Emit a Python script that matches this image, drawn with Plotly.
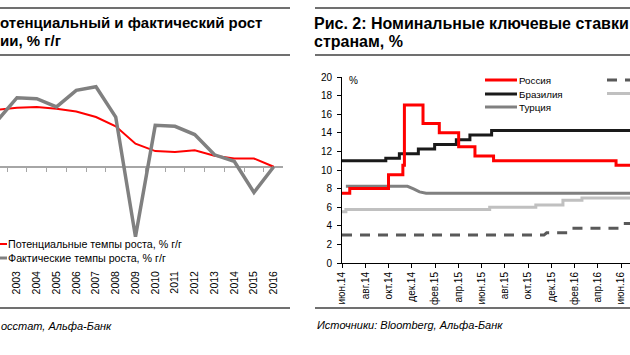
import plotly.graph_objects as go

W, H = 630, 355

# ---------------- Left chart data (Рис. 1) ----------------
years = list(range(2002, 2017))
year_labels = [str(y) for y in years]
potential = [6.2, 6.4, 6.5, 6.3, 6.0, 5.4, 4.4, 2.5, 1.7, 1.6, 1.8, 1.2, 0.9, 0.9, 0.0]
actual = [5.0, 7.5, 7.4, 6.5, 8.3, 8.7, 5.4, -7.6, 4.5, 4.4, 3.5, 1.3, 0.6, -2.8, 0.0]
boundary_ticks = [y + 0.5 for y in range(2001, 2017)]

# ---------------- Right chart data (Рис. 2) ----------------
russia_dates = ["2014-07-08", "2014-07-28", "2014-11-05", "2014-12-12", "2014-12-16",
                "2015-02-02", "2015-03-16", "2015-05-05", "2015-06-16", "2015-08-03",
                "2016-06-14", "2016-07-31"]
russia_rates = [7.5, 8.0, 9.5, 10.5, 17.0, 15.0, 14.0, 12.5, 11.5, 11.0, 10.5, 10.5]

brazil_dates = ["2014-07-08", "2014-10-29", "2014-12-03", "2015-01-21", "2015-03-04",
                "2015-04-29", "2015-06-03", "2015-07-29", "2016-07-31"]
brazil_rates = [11.0, 11.25, 11.75, 12.25, 12.75, 13.25, 13.75, 14.25, 14.25]

turkey_dates = ["2014-07-18", "2014-12-24", "2015-01-10", "2015-01-24", "2015-02-10", "2016-07-31"]
turkey_rates = [8.25, 8.25, 7.95, 7.65, 7.5, 7.5]

safrica_dates = ["2014-07-08", "2014-07-18", "2015-07-24", "2015-11-20", "2016-01-29",
                 "2016-03-18", "2016-07-31"]
safrica_rates = [5.5, 5.75, 6.0, 6.25, 6.75, 7.0, 7.0]

mexico_dates = ["2014-07-08", "2015-12-11", "2015-12-18", "2016-02-12", "2016-02-19",
                "2016-06-24", "2016-07-01", "2016-07-31"]
mexico_rates = [3.0, 3.0, 3.25, 3.25, 3.75, 3.75, 4.25, 4.25]

month_ticks = ["2014-07-08", "2014-09-06", "2014-11-05", "2015-01-04", "2015-03-05",
               "2015-05-04", "2015-07-03", "2015-09-01", "2015-10-31", "2015-12-30",
               "2016-02-28", "2016-04-28", "2016-06-27"]
month_labels = ["июн.14", "авг.14", "окт.14", "дек.14", "фев.15", "апр.15", "июн.15",
                "авг.15", "окт.15", "дек.15", "фев.16", "апр.16", "июн.16"]
rate_ticks = list(range(0, 21, 2))

FONT = "Liberation Sans, Arial, sans-serif"


def px(x):
    return x / W


def py(y):
    return 1 - y / H


fig = go.Figure()

# Left chart traces
fig.add_trace(go.Scatter(x=years, y=potential, mode="lines", name="Потенциальные темпы роста, % г/г",
                         line=dict(color="#ff0000", width=2), xaxis="x", yaxis="y", showlegend=False))
fig.add_trace(go.Scatter(x=years, y=actual, mode="lines", name="Фактические темпы роста, % г/г",
                         line=dict(color="#808080", width=3.5), xaxis="x3", yaxis="y", showlegend=False))

# Right chart traces
fig.add_trace(go.Scatter(x=safrica_dates, y=safrica_rates, mode="lines", name="ЮАР",
                         line=dict(color="#c0c0c0", width=3, shape="hv"), xaxis="x2", yaxis="y2", showlegend=False))
fig.add_trace(go.Scatter(x=mexico_dates, y=mexico_rates, mode="lines", name="Мексика",
                         line=dict(color="#595959", width=3, dash="10px,8px"), xaxis="x2", yaxis="y2", showlegend=False))
fig.add_trace(go.Scatter(x=turkey_dates, y=turkey_rates, mode="lines", name="Турция",
                         line=dict(color="#808080", width=3), xaxis="x2", yaxis="y2", showlegend=False))
fig.add_trace(go.Scatter(x=brazil_dates, y=brazil_rates, mode="lines", name="Бразилия",
                         line=dict(color="#1a1a1a", width=3, shape="hv"), xaxis="x2", yaxis="y2", showlegend=False))
fig.add_trace(go.Scatter(x=russia_dates, y=russia_rates, mode="lines", name="Россия",
                         line=dict(color="#ff0000", width=3, shape="hv"), xaxis="x2", yaxis="y2", showlegend=False))

left_range = [2002.14, 2016.47]

fig.update_layout(
    width=W, height=H,
    margin=dict(l=0, r=0, t=0, b=0, autoexpand=False),
    paper_bgcolor="white", plot_bgcolor="white",
    font=dict(family=FONT, color="#000000", size=10),
    hovermode=False,
    xaxis=dict(domain=[0, px(283)], range=left_range, anchor="y",
               tickvals=years, ticktext=year_labels, tickangle=-90,
               showline=False, ticks="", showgrid=False, zeroline=False,
               tickfont=dict(size=10.5, color="#000")),
    yaxis=dict(domain=[py(268), py(60)], range=[-11.0, 11.6], visible=False, anchor="x"),
    xaxis3=dict(overlaying="x", anchor="free", position=py(167), range=left_range,
                showline=True, linecolor="#a6a6a6", linewidth=1.5, layer="below traces",
                ticks="outside", ticklen=4, tickcolor="#a6a6a6", tickwidth=1,
                tickvals=boundary_ticks, showticklabels=False, showgrid=False, zeroline=False),
    xaxis2=dict(domain=[px(342), 1], range=["2014-07-08", "2016-07-20"], type="date", anchor="y2",
                tickvals=month_ticks, ticktext=month_labels, tickangle=-90,
                showline=True, linecolor="#000", linewidth=1,
                ticks="outside", ticklen=4, tickcolor="#000",
                showgrid=False, zeroline=False, tickfont=dict(size=10, color="#000")),
    yaxis2=dict(domain=[py(263), py(77)], range=[0, 20], anchor="x2",
                tickvals=rate_ticks, showline=True, linecolor="#000", linewidth=1,
                ticks="outside", ticklen=4, tickcolor="#000", ticklabelstandoff=3,
                showgrid=False, zeroline=False, tickfont=dict(size=10, color="#000")),
)

shapes = []
rule = dict(color="#404040", width=1.3)
for (x0, x1) in [(0, 290), (315, 640)]:
    for y in [8, 55, 308]:
        shapes.append(dict(type="line", xref="paper", yref="paper",
                           x0=px(x0), x1=px(x1), y0=py(y), y1=py(y), line=rule))

# legend samples (left chart, partially cropped)
shapes.append(dict(type="line", xref="paper", yref="paper", x0=px(-20), x1=px(7), y0=py(244), y1=py(244),
                   line=dict(color="#ff0000", width=2)))
shapes.append(dict(type="line", xref="paper", yref="paper", x0=px(-20), x1=px(7), y0=py(258), y1=py(258),
                   line=dict(color="#808080", width=3)))
# legend samples (right chart)
for y, c in [(80, "#ff0000"), (94, "#1a1a1a"), (107, "#808080")]:
    shapes.append(dict(type="line", xref="paper", yref="paper", x0=px(485), x1=px(517), y0=py(y), y1=py(y),
                       line=dict(color=c, width=3)))
shapes.append(dict(type="line", xref="paper", yref="paper", x0=px(607), x1=px(660), y0=py(80), y1=py(80),
                   line=dict(color="#595959", width=3, dash="10px,8px")))
shapes.append(dict(type="line", xref="paper", yref="paper", x0=px(607), x1=px(660), y0=py(93.5), y1=py(93.5),
                   line=dict(color="#c0c0c0", width=3)))
fig.update_layout(shapes=shapes)


def ann(text, x, y, size=10.5, bold=False, italic=False, anchor="left"):
    t = f"<b>{text}</b>" if bold else text
    if italic:
        t = f"<i>{t}</i>"
    return dict(text=t, x=px(x), y=py(y), xref="paper", yref="paper", xanchor=anchor, yanchor="middle",
                showarrow=False, font=dict(family=FONT, size=size, color="#000"), borderpad=0)


annotations = [
    ann("отенциальный и фактический рост", -1, 22, size=15, bold=True),
    ann("ии, % г/г", -1, 41, size=15, bold=True),
    ann("Рис. 2: Номинальные ключевые ставки", 313, 23, size=16, bold=True),
    ann("странам, %", 313, 42, size=16, bold=True),
    ann("осстат, Альфа-Банк", 0, 326, size=11, italic=True),
    ann("Источники: Bloomberg, Альфа-Банк", 316, 325, size=11, italic=True),
    ann("%", 348, 80, size=10),
    ann("Потенциальные темпы роста, % г/г", 7, 244, size=10.7),
    ann("Фактические темпы роста, % г/г", 7, 258, size=10.7),
    ann("Россия", 518, 80, size=9.8),
    ann("Бразилия", 518, 94, size=9.8),
    ann("Турция", 518, 107, size=9.8),
]
fig.update_layout(annotations=annotations)

fig.write_html("out.html", config={"displayModeBar": False},
               post_script="document.body.style.margin='0';document.body.style.padding='0';")
